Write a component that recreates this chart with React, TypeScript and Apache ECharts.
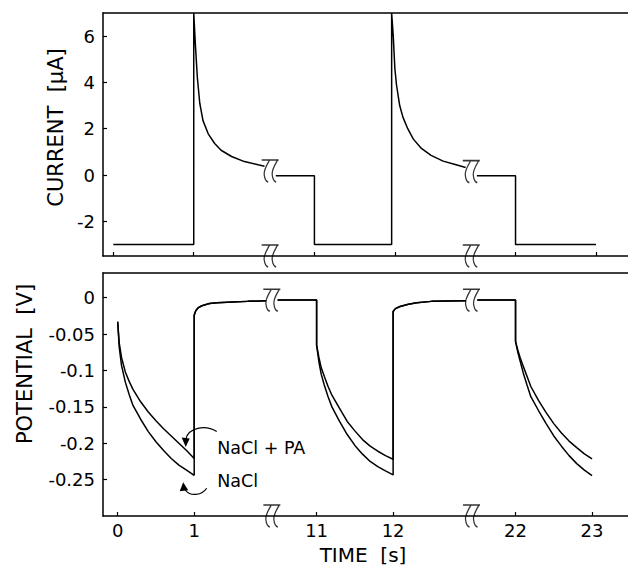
import React, { useEffect, useRef } from "react";
import * as echarts from "echarts";

// ---- tick marks / labels (real time, seconds) ----
const tickTimes = [0, 1, 11, 12, 22, 23];
const tickLabels = ["0", "1", "11", "12", "22", "23"];
const currentTicks = [-2, 0, 2, 4, 6];
const potentialTicks = [0, -0.05, -0.1, -0.15, -0.2, -0.25];

// ---- CURRENT [µA] (null time = axis break) ----
const currentTime = [
  0, 1, 1, 1.02, 1.045, 1.075, 1.115, 1.18, 1.26, 1.34, 1.47, 1.63, 1.8, 1.88,
  null,
  10.52, 11, 11, 11.96, 11.96, 11.98, 12.0, 12.02, 12.06, 12.1, 12.16, 12.23, 12.33, 12.45, 12.6, 12.75, 12.88,
  null,
  21.52, 22, 22, 23,
];
const currentValue = [
  -3, -3, 7, 5.65, 4.2, 3.1, 2.35, 1.78, 1.36, 1.07, 0.8, 0.58, 0.44, 0.38,
  null,
  -0.03, -0.03, -3, -3, 7, 6.0, 4.6, 3.9, 3.0, 2.5, 2.0, 1.55, 1.15, 0.85, 0.6, 0.45, 0.32,
  null,
  -0.03, -0.03, -3, -3,
];

// ---- POTENTIAL [V] ----
const potentialTime = [
  0, 0.02, 0.05, 0.1, 0.15, 0.2, 0.3, 0.4, 0.5, 0.6, 0.7, 0.8, 0.9, 1.0,
  1.0, 1.02, 1.05, 1.1, 1.2, 1.3, 1.5, 1.7, 1.94,
  null,
  10.49, 11.0,
  11.0, 11.03, 11.06, 11.1, 11.15, 11.2, 11.3, 11.4, 11.5, 11.6, 11.7, 11.8, 11.9, 12.0,
  12.0, 12.03, 12.09, 12.2, 12.31, 12.5, 12.7, 12.95,
  null,
  21.5, 22.0,
  22.0, 22.03, 22.06, 22.1, 22.15, 22.2, 22.3, 22.4, 22.5, 22.6, 22.7, 22.8, 22.9, 23.0,
];
const naclValue = [
  -0.033, -0.068, -0.093, -0.116, -0.133, -0.148, -0.167, -0.184, -0.198, -0.21, -0.221, -0.23, -0.237, -0.244,
  -0.024, -0.018, -0.014, -0.011, -0.008, -0.007, -0.006, -0.005, -0.004,
  null,
  -0.003, -0.003,
  -0.065, -0.088, -0.105, -0.12, -0.136, -0.15, -0.17, -0.188, -0.203, -0.215, -0.225, -0.232, -0.238, -0.2435,
  -0.019, -0.015, -0.012, -0.009, -0.007, -0.005, -0.0045, -0.004,
  null,
  -0.003, -0.003,
  -0.06, -0.075, -0.087, -0.103, -0.12, -0.136, -0.155, -0.173, -0.19, -0.204, -0.217, -0.228, -0.237, -0.2445,
];
const naclPaValue = [
  -0.033, -0.062, -0.082, -0.102, -0.115, -0.126, -0.143, -0.157, -0.169, -0.18, -0.19, -0.2, -0.21, -0.221,
  -0.024, -0.018, -0.014, -0.011, -0.008, -0.007, -0.006, -0.005, -0.004,
  null,
  -0.003, -0.003,
  -0.065, -0.082, -0.096, -0.108, -0.122, -0.134, -0.152, -0.17, -0.183, -0.195, -0.204, -0.211, -0.217, -0.222,
  -0.019, -0.015, -0.012, -0.009, -0.007, -0.005, -0.0045, -0.004,
  null,
  -0.003, -0.003,
  -0.06, -0.072, -0.082, -0.094, -0.108, -0.122, -0.141, -0.158, -0.173, -0.186, -0.197, -0.206, -0.2145, -0.2215,
];

// seconds hidden by each axis break, per panel (display = time - shift)
const topShift = [0, 8.5, 17];
const bottomShift = [0, 8.4, 16.8];

const FONT = "DejaVu Sans";
const SQUIGGLE =
  "path://M0 1 L17 1 M8 1 C5 6 2 10 2.5 15 C3 19 4.5 21.5 6.5 22 M16 1 C13 6 10 10 10.5 15 C11 19 12.5 21.5 14.5 22";

function toDisplay(t: number, shift: number[]) {
  if (t < 5) return t - shift[0];
  if (t < 17) return t - shift[1];
  return t - shift[2];
}

function buildLine(times: (number | null)[], vals: (number | null)[], shift: number[]) {
  const out: any[] = [];
  times.forEach((t, i) => {
    if (t === null) {
      const d = (toDisplay(times[i - 1] as number, shift) + toDisplay(times[i + 1] as number, shift)) / 2;
      out.push([d, null]);
    } else {
      out.push([toDisplay(t, shift), vals[i]]);
    }
  });
  return out;
}

function breakMarks(times: (number | null)[], vals: (number | null)[], shift: number[], axisMin: number) {
  const out: any[] = [];
  times.forEach((t, i) => {
    if (t === null) {
      const d = (toDisplay(times[i - 1] as number, shift) + toDisplay(times[i + 1] as number, shift)) / 2;
      const v = ((vals[i - 1] as number) + (vals[i + 1] as number)) / 2;
      out.push([d, v]);
      out.push([d, axisMin]);
    }
  });
  return out;
}

const TOP_MIN = -3.5;
const TOP_MAX = 7;
const BOT_MIN = -0.3;
const BOT_MAX = 0.034;

export default function App() {
  const ref = useRef<HTMLDivElement>(null);

  useEffect(() => {
    if (!ref.current) return;
    const chart = echarts.init(ref.current, undefined, { renderer: "svg" });

    const axisLine = { show: true, onZero: false, lineStyle: { color: "#000", width: 1.5 } };
    const labelStyle = { color: "#000", fontSize: 18, fontFamily: FONT };
    const nameStyle = { color: "#000", fontSize: 21, fontFamily: FONT };

    const xFormatter = (shift: number[]) => (val: number) => {
      const i = tickTimes.findIndex((t) => Math.abs(toDisplay(t, shift) - val) < 1e-6);
      return i >= 0 ? tickLabels[i] : "";
    };

    const squiggleSeries = (xi: number, yi: number, data: any[]) => ({
      type: "scatter",
      xAxisIndex: xi,
      yAxisIndex: yi,
      data,
      symbol: SQUIGGLE,
      symbolSize: [17, 22],
      clip: false,
      silent: true,
      z: 5,
      itemStyle: { color: "rgba(0,0,0,0)", borderColor: "#000", borderWidth: 1.4 },
    });

    const option: any = {
      animation: false,
      backgroundColor: "#fff",
      textStyle: { fontFamily: FONT },
      grid: [
        { left: 103, top: 13, right: 0, height: 243 },
        { left: 103, top: 273, right: 0, height: 243 },
      ],
      xAxis: [
        {
          type: "value",
          gridIndex: 0,
          min: -0.128,
          max: 6.398,
          axisLine,
          splitLine: { show: false },
          axisTick: {
            show: true,
            inside: true,
            length: 4,
            customValues: tickTimes.map((t) => toDisplay(t, topShift)),
            lineStyle: { color: "#000", width: 1.2 },
          },
          axisLabel: { show: false },
        },
        {
          type: "value",
          gridIndex: 0,
          position: "top",
          min: -0.128,
          max: 6.398,
          axisLine,
          splitLine: { show: false },
          axisTick: { show: false },
          axisLabel: { show: false },
        },
        {
          type: "value",
          gridIndex: 1,
          min: -0.192,
          max: 6.67,
          axisLine,
          splitLine: { show: false },
          axisTick: {
            show: true,
            inside: true,
            length: 4,
            customValues: tickTimes.map((t) => toDisplay(t, bottomShift)),
            lineStyle: { color: "#000", width: 1.2 },
          },
          axisLabel: {
            ...labelStyle,
            margin: 5,
            customValues: tickTimes.map((t) => toDisplay(t, bottomShift)),
            formatter: xFormatter(bottomShift),
          },
          name: "TIME\u00a0\u00a0[s]",
          nameLocation: "middle",
          nameGap: 29,
          nameTextStyle: { ...nameStyle, fontSize: 20, padding: [0, 5, 0, 0] },
        },
        {
          type: "value",
          gridIndex: 1,
          position: "top",
          min: -0.192,
          max: 6.67,
          axisLine,
          splitLine: { show: false },
          axisTick: { show: false },
          axisLabel: { show: false },
        },
      ],
      yAxis: [
        {
          type: "value",
          gridIndex: 0,
          min: TOP_MIN,
          max: TOP_MAX,
          axisLine,
          splitLine: { show: false },
          axisTick: {
            show: true,
            inside: true,
            length: 4,
            customValues: currentTicks,
            lineStyle: { color: "#000", width: 1.2 },
          },
          axisLabel: { ...labelStyle, margin: 8, customValues: currentTicks },
          name: "CURRENT\u00a0\u00a0[µA]",
          nameLocation: "middle",
          nameGap: 35,
          nameTextStyle: { ...nameStyle, padding: [0, 0, 0, 14] },
        },
        {
          type: "value",
          gridIndex: 1,
          min: BOT_MIN,
          max: BOT_MAX,
          axisLine,
          splitLine: { show: false },
          axisTick: {
            show: true,
            inside: true,
            length: 4,
            customValues: potentialTicks,
            lineStyle: { color: "#000", width: 1.2 },
          },
          axisLabel: { ...labelStyle, margin: 8, customValues: potentialTicks },
          name: "POTENTIAL\u00a0\u00a0[V]",
          nameLocation: "middle",
          nameGap: 68,
          nameTextStyle: { ...nameStyle, padding: [0, 0, 0, 61] },
        },
      ],
      series: [
        {
          type: "line",
          name: "current",
          xAxisIndex: 0,
          yAxisIndex: 0,
          data: buildLine(currentTime, currentValue, topShift),
          showSymbol: false,
          connectNulls: false,
          lineStyle: { color: "#000", width: 1.5 },
          z: 3,
        },
        {
          type: "line",
          name: "NaCl",
          xAxisIndex: 2,
          yAxisIndex: 1,
          data: buildLine(potentialTime, naclValue, bottomShift),
          showSymbol: false,
          connectNulls: false,
          lineStyle: { color: "#000", width: 1.5 },
          z: 3,
        },
        {
          type: "line",
          name: "NaCl + PA",
          xAxisIndex: 2,
          yAxisIndex: 1,
          data: buildLine(potentialTime, naclPaValue, bottomShift),
          showSymbol: false,
          connectNulls: false,
          lineStyle: { color: "#000", width: 1.5 },
          z: 3,
        },
        squiggleSeries(0, 0, breakMarks(currentTime, currentValue, topShift, TOP_MIN)),
        squiggleSeries(2, 1, breakMarks(potentialTime, naclValue, bottomShift, BOT_MIN)),
      ],
    };

    chart.setOption(option);

    // annotations anchored to the ends of the first pulse
    const endIdx = potentialTime.indexOf(1.0);
    const dEnd = toDisplay(1.0, bottomShift);
    const pa = chart.convertToPixel({ gridIndex: 1 }, [dEnd, naclPaValue[endIdx] as number]) as number[];
    const na = chart.convertToPixel({ gridIndex: 1 }, [dEnd, naclValue[endIdx] as number]) as number[];
    const stroke = { stroke: "#000", lineWidth: 1.2, fill: "none" };
    chart.setOption({
      graphic: [
        {
          type: "text",
          x: pa[0] + 23,
          y: pa[1] - 10.6,
          style: { text: "NaCl + PA", fontSize: 17.5, fontFamily: FONT, fill: "#000", verticalAlign: "middle", align: "left" },
        },
        {
          type: "text",
          x: na[0] + 23,
          y: na[1] + 5.7,
          style: { text: "NaCl", fontSize: 17.5, fontFamily: FONT, fill: "#000", verticalAlign: "middle", align: "left" },
        },
        {
          type: "bezierCurve",
          shape: {
            x1: pa[0] + 22.5, y1: pa[1] - 27,
            cpx1: pa[0] + 11, cpy1: pa[1] - 34,
            cpx2: pa[0] - 6, cpy2: pa[1] - 31,
            x2: pa[0] - 8.5, y2: pa[1] - 19,
          },
          style: stroke,
        },
        {
          type: "polygon",
          shape: { points: [[pa[0] - 8.5, pa[1] - 11.5], [pa[0] - 12.5, pa[1] - 21], [pa[0] - 4.5, pa[1] - 20]] },
          style: { fill: "#000" },
        },
        {
          type: "bezierCurve",
          shape: {
            x1: na[0] + 12.5, y1: na[1] + 13,
            cpx1: na[0] + 7, cpy1: na[1] + 21,
            cpx2: na[0] - 5, cpy2: na[1] + 21,
            x2: na[0] - 9, y2: na[1] + 14.5,
          },
          style: stroke,
        },
        {
          type: "polygon",
          shape: { points: [[na[0] - 11, na[1] + 7], [na[0] - 14.5, na[1] + 16], [na[0] - 6, na[1] + 15]] },
          style: { fill: "#000" },
        },
      ],
    });

    return () => chart.dispose();
  }, []);

  return (
    <div
      ref={ref}
      style={{ position: "fixed", left: 0, top: 0, width: 628, height: 566, background: "#fff" }}
    />
  );
}
